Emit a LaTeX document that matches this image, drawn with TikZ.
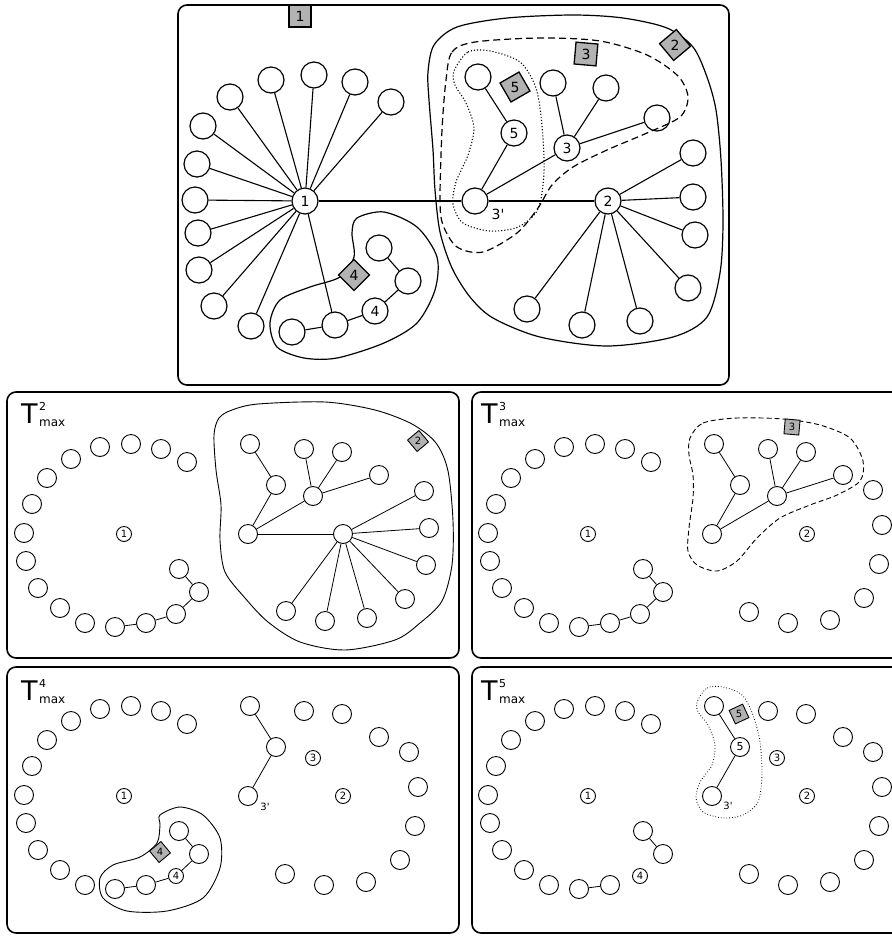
\documentclass[tikz,border=0pt]{standalone}
\usepackage{fontspec}
\setmainfont{DejaVu Sans}
\newfontfamily\qfont{DejaVu Sans}
\usetikzlibrary{shapes.geometric}
\newcommand\ringnodes{%
 \foreach \x/\y [count=\i] in {100/447,131/444,161/449,187/462,71/459,47/478,32/504,24/533,26/561,38/588,60/608,85/623}{\node[sm] (l\i) at (\x,\y) {};}%
 \node[tnode] (one) at (124,534) {1};%
 \node[sm] (k1) at (115,627) {};%
 \node[sm] (k2) at (146,623) {};%
 \node[sm] (k4) at (199,592) {};%
 \node[sm] (k5) at (179,569) {};%
 \draw[sedg] (k1) -- (k2);%
 \draw[sedg] (k4) -- (k5);%
 \node[sm] (u1) at (250,444) {};%
 \node[sm] (u3) at (248,534) {};%
 \foreach \x/\y [count=\i] in {304/449,342/452,379/475}{\node[sm] (v\i) at (\x,\y) {};}%
}
\newcommand\outerleaves{%
 \foreach \x/\y [count=\i] in {409/490,418/525,415/564,400/598,366/620,324/623,285/612}{\node[sm] (w\i) at (\x,\y) {};}%
}
\newcommand\tlabel[4]{%
 \node[anchor=base west,inner sep=0pt] (#4T) at (#1,#2) {\fontsize{27}{27}\selectfont T\kern1.5pt\rlap{\raisebox{13pt}{\fontsize{11}{11}\selectfont #3}}\raisebox{-3pt}{\fontsize{12}{12}\selectfont max}};%
}
\begin{document}
\begin{tikzpicture}[x=1pt,y=-1pt,
 big/.style={circle,draw,line width=1.2pt,minimum size=26pt,inner sep=0pt,font=\fontsize{14}{14}\selectfont},
 sm/.style={circle,draw,line width=0.9pt,minimum size=19pt,inner sep=0pt,font=\fontsize{11}{11}\selectfont},
 tnode/.style={circle,draw,line width=0.9pt,minimum size=15pt,inner sep=0pt,font=\fontsize{10}{10}\selectfont},
 tagbox/.style={regular polygon,regular polygon sides=4,draw,line width=1.3pt,fill=black!30,minimum size=31pt,inner sep=0pt,font=\fontsize{14}{14}\selectfont},
 stagbox/.style={regular polygon,regular polygon sides=4,draw,line width=0.9pt,fill=black!30,minimum size=21pt,inner sep=0pt,font=\fontsize{10}{10}\selectfont},
 panel/.style={draw,line width=1.6pt,rounded corners=9pt},
 edg/.style={line width=1.1pt},
 sedg/.style={line width=0.8pt},
 lbl/.style={inner sep=0pt,font=\fontsize{14}{14}\selectfont},
 slbl/.style={inner sep=0pt,font=\fontsize{10}{10}\selectfont},
]
\useasboundingbox (0,0) rectangle (892,938);

% ---------------- top panel ----------------
\draw[panel] (178,5) rectangle (729,385);
\draw[line width=1.2pt] plot[smooth cycle] coordinates {(457,27) (507,18) (573,15) (623,18) (667,28) (693,47) (707,77) (716,110) (721,160) (723,223) (720,273) (707,317) (673,337) (607,346) (540,337) (493,318) (470,297) (452,268) (440,232) (435,190) (433,150) (429,100) (428,72) (434,45)};
\draw[line width=1.2pt,dash pattern=on 7pt off 4pt] plot[smooth cycle] coordinates {(446,80) (452,52) (475,42) (540,38) (600,41) (647,55) (678,76) (688,97) (680,117) (647,133) (607,150) (573,167) (552,185) (538,208) (517,233) (483,252) (457,247) (443,225) (440,200) (442,130)};
\draw[line width=1.1pt,dotted] plot[smooth cycle] coordinates {(454,71) (468,52) (490,51) (520,62) (536,88) (542,126) (544,172) (538,209) (518,227) (490,231) (463,223) (453,204) (456,182) (468,155) (474,128) (466,103) (455,85)};
\draw[line width=1.2pt] plot[smooth cycle] coordinates {(357,218) (384,212) (417,227) (437,257) (435,290) (417,323) (384,343) (337,358) (304,358) (277,347) (270,323) (280,300) (310,287) (340,277) (354,257) (352,233)};

\node[big] (n1) at (305,201) {1};
\foreach \x/\y [count=\i] in {230/97,271/80,314/75,355/82,391/102,203/126,197/164,195/200,198/233,199/270,214/306,251/326}{\node[big] (a\i) at (\x,\y) {}; \draw[edg] (n1) -- (a\i);}

\node[big] (g1) at (292,332) {};
\node[big] (g2) at (335,325) {};
\node[big] (n4) at (375,311) {4};
\node[big] (g3) at (408,281) {};
\node[big] (g4) at (379,248) {};
\draw[edg] (g1) -- (g2);
\draw[edg] (g2) -- (n4);
\draw[edg] (n4) -- (g3);
\draw[edg] (g3) -- (g4);
\draw[edg] (n1) -- (g2);

\node[big] (r1) at (478,77) {};
\node[big] (n5) at (514,133) {5};
\node[big] (n3p) at (475,201) {};
\node[lbl] (l3p) at (498,214) {3{\qfont'}};
\node[big] (n3) at (567,148) {3};
\node[big] (r2) at (553,83) {};
\node[big] (r3) at (606,88) {};
\node[big] (r4) at (657,118) {};
\node[big] (n2) at (608,201) {2};
\foreach \x/\y [count=\i] in {693/153,693/197,695/235,688/288,640/321,582/325,527/309}{\node[big] (b\i) at (\x,\y) {}; \draw[edg] (n2) -- (b\i);}
\draw[edg] (n1) -- (n3p);
\draw[edg] (n3p) -- (n2);
\draw[edg] (n3p) -- (n5);
\draw[edg] (n5) -- (r1);
\draw[edg] (n3p) -- (n3);
\draw[edg] (n3) -- (r2);
\draw[edg] (n3) -- (r3);
\draw[edg] (n3) -- (r4);

\node[tagbox] (tg1) at (300,16) {1};
\node[tagbox,shape border rotate=40] (tg2) at (675,45) {2};
\node[tagbox,shape border rotate=-5] (tg3) at (586,54) {3};
\node[tagbox,shape border rotate=45] (tg4) at (354,275) {4};
\node[tagbox,shape border rotate=30] (tg5) at (515,87) {5};

% ---------------- lower panels: frames and titles ----------------
\draw[panel] (7,392) rectangle (459,658);
\draw[panel] (472,392) rectangle (910,658);
\draw[panel] (7,667) rectangle (459,933);
\draw[panel] (472,667) rectangle (910,933);
\tlabel{21}{423}{2}{q2}
\tlabel{481}{423}{3}{q3}
\tlabel{21}{700}{4}{q4}
\tlabel{481}{700}{5}{q5}

% ---------------- T2 ----------------
\begin{scope}[name prefix=p2-]
\draw[line width=0.9pt] plot[smooth cycle] coordinates {(232,410) (258,404) (325,402) (375,410) (412,424) (436,443) (448,471) (453,521) (452,565) (442,601) (420,623) (395,640) (345,650) (300,642) (268,622) (245,598) (225,572) (220,540) (221,505) (216,470) (214,435) (219,418)};
\ringnodes
\node[sm] (k3) at (176,614) {};
\draw[sedg] (k2) -- (k3);
\draw[sedg] (k3) -- (k4);
\node[sm] (u2) at (276,485) {};
\node[sm] (m3) at (313,496) {};
\node[sm] (m2) at (343,534) {};
\foreach \x/\y [count=\i] in {424/491,429/528,426/565,405/599,367/618,325/621,286/611}{\node[sm] (w\i) at (\x,\y) {}; \draw[sedg] (m2) -- (w\i);}
\draw[sedg] (u1) -- (u2);
\draw[sedg] (u2) -- (u3);
\draw[sedg] (u3) -- (m3);
\draw[sedg] (u3) -- (m2);
\foreach \i in {1,2,3}{\draw[sedg] (m3) -- (v\i);}
\node[stagbox,shape border rotate=40] (tg) at (418,441) {2};
\end{scope}

% ---------------- T3 ----------------
\begin{scope}[shift={(464,0)},name prefix=p3-]
\draw[line width=0.9pt,dash pattern=on 5pt off 3pt] plot[smooth cycle] coordinates {(226,438) (239,423) (273,418) (319,419) (356,425) (386,438) (399,461) (396,481) (373,495) (346,505) (316,518) (293,538) (273,561) (253,571) (233,565) (224,551) (225,528) (229,498) (229,475) (225,455)};
\ringnodes
\node[sm] (k3) at (176,614) {};
\draw[sedg] (k2) -- (k3);
\draw[sedg] (k3) -- (k4);
\node[sm] (u2) at (276,485) {};
\node[sm] (m3) at (313,496) {};
\node[tnode] (m2) at (343,534) {2};
\outerleaves
\draw[sedg] (u1) -- (u2);
\draw[sedg] (u2) -- (u3);
\draw[sedg] (u3) -- (m3);
\foreach \i in {1,2,3}{\draw[sedg] (m3) -- (v\i);}
\node[stagbox,shape border rotate=-5] (tg) at (328,427) {3};
\end{scope}

% ---------------- T4 ----------------
\begin{scope}[shift={(0,262)},name prefix=p4-]
\draw[line width=0.9pt] plot[smooth cycle] coordinates {(160,553) (180,545) (203,553) (220,576) (220,606) (203,636) (167,649) (127,649) (103,636) (100,616) (113,603) (140,595) (157,581) (160,563)};
\ringnodes
\node[tnode] (k3) at (176,614) {4};
\draw[sedg] (k2) -- (k3);
\draw[sedg] (k3) -- (k4);
\node[sm] (u2) at (276,485) {};
\node[tnode] (m3) at (313,496) {3};
\node[tnode] (m2) at (343,534) {2};
\outerleaves
\draw[sedg] (u1) -- (u2);
\draw[sedg] (u2) -- (u3);
\node[slbl] (l3p) at (265,545) {3{\qfont'}};
\node[stagbox,shape border rotate=40] (tg) at (160,590) {4};
\end{scope}

% ---------------- T5 ----------------
\begin{scope}[shift={(464,262)},name prefix=p5-]
\draw[line width=0.8pt,dotted] plot[smooth cycle] coordinates {(233,440) (243,426) (259,425) (278,433) (289,453) (296,480) (298,513) (294,540) (279,553) (259,556) (239,550) (232,536) (236,520) (248,503) (251,483) (244,463) (234,450)};
\ringnodes
\node[tnode] (k3) at (176,614) {4};
\node[sm] (u2) at (276,485) {5};
\node[tnode] (m3) at (313,496) {3};
\node[tnode] (m2) at (343,534) {2};
\outerleaves
\draw[sedg] (u1) -- (u2);
\draw[sedg] (u2) -- (u3);
\node[slbl] (l3p) at (264,544) {3{\qfont'}};
\node[stagbox,shape border rotate=25] (tg) at (275,452) {5};
\end{scope}
\end{tikzpicture}
\end{document}
